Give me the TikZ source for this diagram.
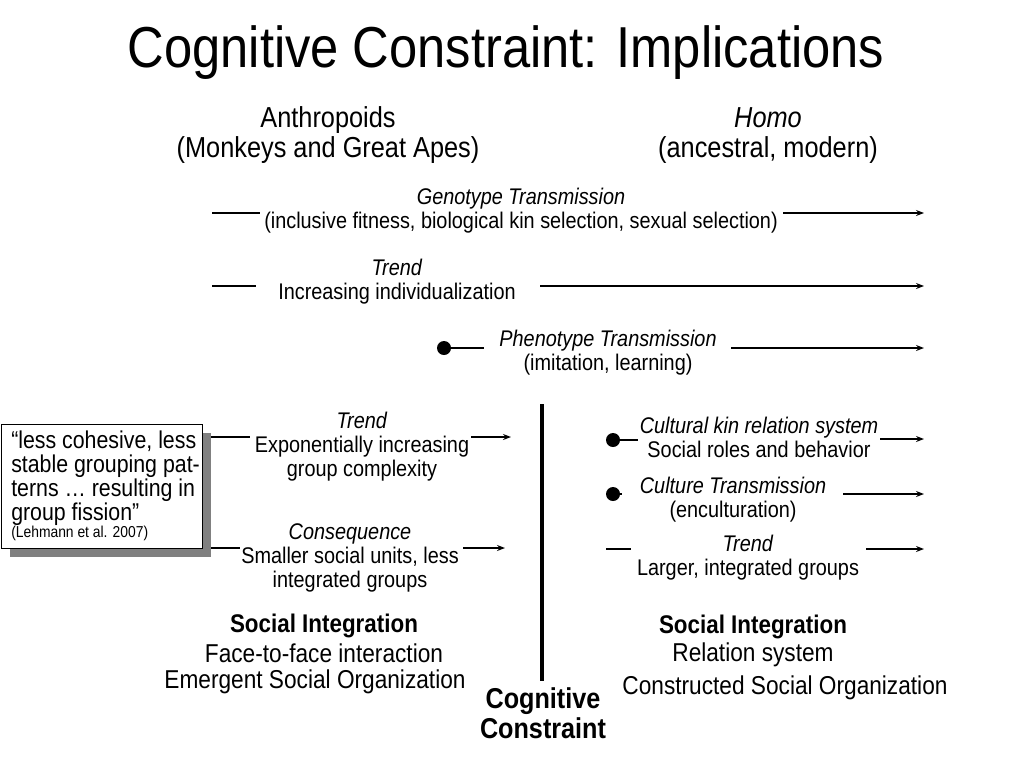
\documentclass[tikz,border=0pt]{standalone}
\usepackage{fontspec}
\setmainfont{Liberation Sans}
\usetikzlibrary{arrows.meta,shadows}

\begin{document}
\begin{tikzpicture}[x=0.75pt,y=-0.75pt,
  txt/.style={inner sep=0pt,align=center,yscale=1.14,transform shape},
  sml/.style={txt,font=\fontsize{14.9}{15.8}\selectfont},
  hdr/.style={txt,font=\fontsize{19}{19.7}\selectfont},
  btm/.style={txt,font=\fontsize{17}{18}\selectfont},
  conn/.style={line width=1pt},
  arr/.style={conn,-{Stealth[length=6pt,width=4.5pt]}},
  dot/.style={circle,fill=black,inner sep=0pt,minimum size=10.5pt}]
\fill[white] (0,0) rectangle (1024,768);
\useasboundingbox (0,0) rectangle (1024,768);

\node[txt,font=\fontsize{38}{40}\selectfont] (title) at (506,53) {Cognitive Constraint: Implications};

\node[hdr] (anthro) at (328,135) {Anthropoids\\(Monkeys and Great Apes)};
\node[hdr] (homo) at (768,136) {\textit{Homo}\\(ancestral, modern)};

% upper rows
\node[sml] (geno) at (521,211) {\textit{Genotype Transmission}\\(inclusive fitness, biological kin selection, sexual selection)};
\node[sml] (trendA) at (397,282) {\textit{Trend}\\Increasing individualization};
\node[sml] (pheno) at (608,353) {\textit{Phenotype Transmission}\\(imitation, learning)};

\coordinate (genoS) at (212,213);
\coordinate (genoL) at (260,213);
\coordinate (genoR) at (783,213);
\coordinate (genoE) at (924,213);
\draw[conn] (genoS) -- (genoL);
\draw[arr] (genoR) -- (genoE);

\coordinate (trendAS) at (212,286);
\coordinate (trendAL) at (256,286);
\coordinate (trendAR) at (540,286);
\coordinate (trendAE) at (924,286);
\draw[conn] (trendAS) -- (trendAL);
\draw[arr] (trendAR) -- (trendAE);

\node[dot] (phenoDot) at (444,348) {};
\coordinate (phenoL) at (484,348);
\coordinate (phenoR) at (731,348);
\coordinate (phenoE) at (924,348);
\draw[conn] (phenoDot) -- (phenoL);
\draw[arr] (phenoR) -- (phenoE);

% quote box
\node[draw,fill=white,anchor=north west,inner sep=0pt,line width=0.6pt,
  minimum width=151pt,minimum height=93pt,
  drop shadow={shadow xshift=6.5pt,shadow yshift=-6.8pt,fill=gray,opacity=1}] (quote) at (1,424) {};
\node[txt,align=left,anchor=west,font=\fontsize{16}{15.8}\selectfont] (quoteTxt) at (11,478)
  {“less cohesive, less\\stable grouping pat-\\terns … resulting in\\group fission”};
\node[txt,anchor=west,font=\fontsize{10.4}{12}\selectfont] (cite) at (11,533) {(Lehmann et al. 2007)};

% left lower rows
\node[sml] (trendB) at (362,447) {\textit{Trend}\\Exponentially increasing\\group complexity};
\node[sml] (conseq) at (350,558) {\textit{Consequence}\\Smaller social units, less\\integrated groups};

\coordinate (trendBS) at (211,437);
\coordinate (trendBL) at (250,437);
\coordinate (trendBR) at (471,437);
\coordinate (trendBE) at (511,437);
\draw[conn] (trendBS) -- (trendBL);
\draw[arr] (trendBR) -- (trendBE);

\coordinate (conseqS) at (211,548);
\coordinate (conseqL) at (240,548);
\coordinate (conseqR) at (463,548);
\coordinate (conseqE) at (505,548);
\draw[conn] (conseqS) -- (conseqL);
\draw[arr] (conseqR) -- (conseqE);

% constraint
\coordinate (barTop) at (542,404);
\coordinate (barBot) at (542,681);
\draw[line width=2.4pt] (barTop) -- (barBot);
\node[txt,font=\fontsize{18.9}{19.7}\selectfont\bfseries] (cogn) at (543,713) {Cognitive\\Constraint};

% right lower rows
\node[sml] (kin) at (759,437) {\textit{Cultural kin relation system}\\Social roles and behavior};
\node[sml] (cultT) at (733,500) {\textit{Culture Transmission}\\(enculturation)};
\node[sml] (trendC) at (748,558) {\textit{Trend}\\Larger, integrated groups};

\node[dot] (kinDot) at (613,440) {};
\coordinate (kinL) at (638,440);
\coordinate (kinR) at (880,439);
\coordinate (kinE) at (924,439);
\draw[conn] (kinDot) -- (kinL);
\draw[arr] (kinR) -- (kinE);

\node[dot] (cultDot) at (613,494) {};
\coordinate (cultL) at (622,494);
\coordinate (cultR) at (843,494);
\coordinate (cultE) at (924,494);
\draw[conn] (cultDot) -- (cultL);
\draw[arr] (cultR) -- (cultE);

\coordinate (trendCS) at (606,549);
\coordinate (trendCL) at (631,549);
\coordinate (trendCR) at (866,549);
\coordinate (trendCE) at (924,549);
\draw[conn] (trendCS) -- (trendCL);
\draw[arr] (trendCR) -- (trendCE);

% bottom
\node[btm,font=\fontsize{16.8}{18}\selectfont\bfseries] (socL) at (324,626) {Social Integration};
\node[btm] (faceL) at (324,653) {Face-to-face interaction};
\node[btm] (emerL) at (315,682) {Emergent Social Organization};
\node[btm,font=\fontsize{16.8}{18}\selectfont\bfseries] (socR) at (753,627) {Social Integration};
\node[btm] (relR) at (753,655) {Relation system};
\node[btm] (consR) at (785,688) {Constructed Social Organization};

\end{tikzpicture}
\end{document}
